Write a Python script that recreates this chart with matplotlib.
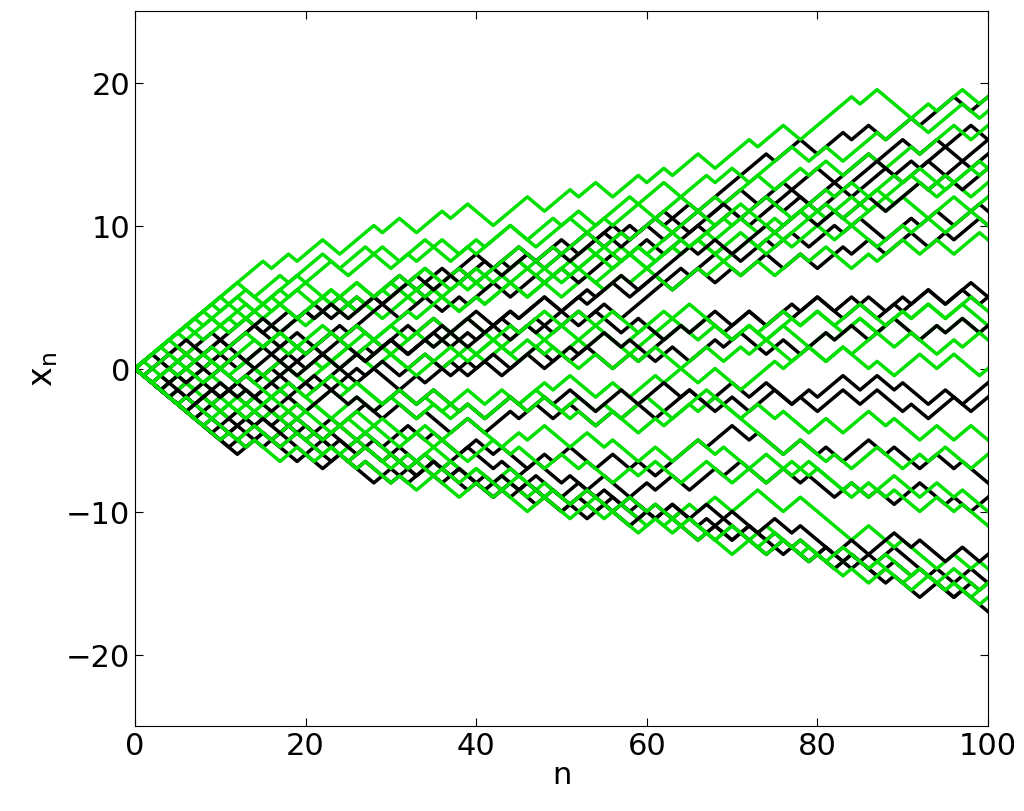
import matplotlib
matplotlib.use("Agg")
import matplotlib.pyplot as plt
import numpy as np

# each path is read off the picture as signed run lengths:
# +k means k steps up, -k means k steps down, each step 0.5 in x_n per unit of n
green_runs = [
    [15, -1, 2, -1, 3, -2, 4, -1, 2, -2, 3, -1, 2, -3, 4, -2, 3, -1, 2, -2, 3, -1, 2, -1, 3, -2, 4, -1, 3, -2, 6, -1, 2, -3],
    [12, -2, 3, -1, 4, -2, 3, -3, 2, -1, 3, -2, 2, -1, 3, -3, 4, -2, 2, -1, 3, -2, 3, -2, 2, -1, 4, -2, 3, -1, 2, -2, 3],
    [9, -1, 2, -2, 3, -1, 2, -3, 3, -2, 2, -1, 3, -2, 2, -3, 4, -2, 3, -1, 2, -2, 2, -3, 3, -1, 2, -2, 3, -2, 2, -1, 3],
    [6, -2, 3, -1, 2, -3, 2, -1, 3, -2, 2, -2, 3, -1, 2, -3, 2, -1, 3, -2, 2, -2, 3, -2, 2, -1, 2, -3, 3, -1, 2, -2, 2],
    [3, -2, 2, -3, 2, -1, 3, -2, 2, -3, 2, -1, 2, -2, 3, -2, 2, -3, 2, -1, 3, -2, 2, -2, 2, -3, 3, -1, 2, -2, 2, -3, 2],
    [-3, 2, -2, 3, -1, 2, -3, 2, -2, 3, -1, 2, -2, 2, -3, 2, -1, 3, -2, 2, -2, 3, -2, 2, -1, 2, -3, 3, -1, 2, -2, 2, -2],
    [-7, 2, -1, 3, -2, 2, -3, 1, -2, 3, -2, 2, -3, 2, -1, 3, -2, 2, -2, 3, -1, 2, -3, 2, -2, 3, -1, 2, -2, 2, -3, 2],
    [2, -5, 2, -3, 1, -2, 3, -3, 2, -1, 2, -3, 2, -2, 1, -3, 2, -2, 3, -1, 2, -3, 2, -2, 1, -2, 3, -3, 2, -1, 2, -3],
    [-4, 2, -3, 2, -4, 1, -2, 3, -3, 2, -2, 1, -3, 2, -2, 3, -4, 2, -1, 2, -3, 2, -2, 1, -3, 2, -2, 3, -2, 1, -3],
    [-6, 2, -3, 1, -4, 2, -2, 1, -3, 2, -3, 1, -2, 3, -4, 1, -2, 2, -3, 1, -4, 2, -2, 1, -3, 2, -2, 1, -3, 2, -2],
    [1, -3, 2, -6, 2, -3, 1, -4, 2, -2, 1, -5, 2, -2, 1, -4, 2, -3, 1, -3, 2, -2, 1, -3, 2, -2, 3, -1, 2, -2, 3],
    [10, -1, 2, -2, 4, -1, 3, -2, 4, -2, 3, -3, 2, -1, 4, -2, 3, -1, 2, -2, 4, -1, 3, -2, 3, -1, 2, -2, 5, -1],
    [5, -1, 3, -2, 2, -1, 3, -2, 3, -2, 2, -1, 3, -2, 2, -2, 3, -1, 2, -2, 3, -2, 2, -1, 3, -2, 2, -2, 3, -1, 2],
    [-2, 3, -2, 2, -1, 2, -3, 2, -2, 2, -1, 3, -2, 2, -3, 2, -1, 2, -2, 3, -2, 2, -2, 1, -3, 2, -2, 2, -1, 2, -3],
    [-5, 1, -3, 2, -2, 3, -2, 1, -4, 2, -2, 1, -3, 2, -2, 1, -3, 3, -2, 1, -3, 2, -2, 1, -3, 2, -1, 2, -3, 2],
    [7, -1, 3, -2, 2, -1, 3, -2, 2, -3, 3, -1, 2, -2, 3, -2, 2, -1, 3, -3, 2, -1, 3, -2, 2, -2, 3, -1, 2, -2],
    [4, -3, 2, -1, 3, -2, 2, -2, 3, -3, 2, -1, 2, -2, 3, -2, 2, -3, 2, -1, 3, -2, 2, -2, 2, -3, 3, -1, 2, -2],
    [-1, 3, -4, 2, -2, 1, -3, 2, -2, 3, -2, 1, -3, 2, -2, 2, -3, 1, -2, 3, -2, 2, -3, 1, -2, 2, -3, 2, -1, 2],
    [-10, 1, -2, 1, -3, 2, -2, 2, -3, 1, -3, 1, -2, 2, -3, 2, -2, 1, -3, 2, -3, 2, -2, 1, -3, 2, -2],
    [-8, 1, -3, 2, -3, 2, -3, 1, -2, 2, -3, 2, -3, 1, -2, 2, -3, 2, -3, 1, -2, 2, -3, 2, -2, 1, -3],
    [8, -2, 3, -1, 2, -3, 4, -1, 2, -2, 3, -1, 2, -3, 3, -1, 4, -2, 2, -1, 3, -2, 2, -1, 3, -2, 3],
    [-2, 2, -1, 3, -2, 4, -1, 2, -3, 3, -1, 2, -2, 4, -1, 3, -2, 2, -1, 3, -2, 3, -1, 2, -2, 3],
]
black_runs = [
    [-2, 3, 4, -1, 3, -2, 3, -1, 2, -2, 3, -1, 4, -2, 3, -1, 3, -2, 3, -2, 3, -1, 2, -2, 3, -1, 3, -2, 3],
    [-1, 4, -2, 3, -1, 3, -2, 4, -1, 3, -2, 2, -1, 3, -2, 4, -2, 3, -1, 2, -2, 3, -1, 4, -2, 3, -1, 3, -2],
    [-3, 2, -1, 4, -2, 3, -1, 2, -2, 3, -1, 2, -3, 3, -1, 2, -2, 3, -2, 2, -1, 3, -2, 3, -1, 2, -2, 3, -1],
    [-4, 2, -1, 3, -2, 2, -1, 3, -2, 2, -2, 3, -1, 2, -2, 3, -2, 2, -1, 3, -2, 2, -2, 3, -1, 2, -2, 3],
    [-6, 2, -1, 2, -2, 3, -2, 2, -1, 3, -2, 2, -3, 2, -1, 3, -2, 2, -2, 3, -2, 2, -1, 2, -3, 2, -1, 3],
    [-8, 1, -2, 3, -2, 2, -3, 2, -1, 3, -2, 2, -2, 1, -3, 2, -2, 3, -1, 2, -2, 2, -3, 2, -1, 2, -2, 3],
    [-10, 2, -1, 3, -2, 1, -3, 2, -2, 1, -2, 3, -2, 1, -3, 2, -2, 1, -3, 2, -1, 2, -3, 2, -2, 1, -2, 3],
    [-12, 3, -1, 2, -3, 2, -2, 1, -3, 2, -2, 1, -2, 3, -3, 1, -2, 2, -3, 1, -2, 2, -3, 2, -1, 2, -2],
    [-9, 1, -3, 2, -2, 1, -4, 2, -2, 1, -3, 2, -1, 2, -4, 1, -2, 2, -3, 1, -2, 3, -2, 1, -3, 2, -2],
    [-7, 2, -3, 1, -3, 2, -2, 1, -4, 2, -2, 1, -3, 2, -2, 1, -4, 2, -1, 2, -3, 2, -2, 1, -3, 1, -2],
    [-5, 1, -4, 2, -2, 1, -3, 2, -3, 1, -2, 2, -4, 1, -3, 2, -2, 1, -3, 2, -2, 1, -4, 2, -1, 2, -3],
    [-11, 2, -2, 1, -3, 2, -2, 1, -4, 2, -2, 3, -2, 1, -3, 2, -2, 1, -4, 2, -2, 1, -3, 2, -1, 2, -2],
    [-3, 4, -1, 3, -2, 3, -1, 2, -2, 3, -1, 4, -2, 3, -2, 2, -1, 3, -2, 3, -1, 2, -2, 4, -1, 3, -2],
    [-2, 1, -3, 2, -2, 3, -1, 2, -3, 2, -2, 3, -1, 2, -2, 3, -3, 2, -1, 2, -2, 3, -2, 2, -1, 3, -2],
    [-4, 1, -2, 3, -2, 1, -3, 2, -2, 3, -2, 1, -2, 3, -2, 2, -3, 1, -2, 3, -2, 2, -1, 2, -3, 2],
    [-1, 2, -3, 2, -1, 3, -2, 2, -2, 3, -1, 2, -3, 3, -2, 2, -1, 2, -2, 3, -2, 2, -1, 3, -2, 2, -3],
    [2, -1, 3, -2, 2, -1, 4, -2, 3, -1, 2, -2, 3, -1, 4, -2, 2, -1, 3, -2, 3, -1, 2, -2, 4, -1],
    [-6, 3, -1, 2, -2, 4, -1, 3, -2, 2, -1, 3, -2, 4, -1, 2, -2, 3, -1, 3, -2, 2, -1, 4, -2, 3],
]

N_STEPS = 100


def walk(runs):
    steps = []
    # the read runs cover the first part of each path; they are read again from the
    # second run on until the path reaches n = 100
    k = 0
    while len(steps) < N_STEPS:
        r = runs[k]
        steps += [0.5 if r > 0 else -0.5] * abs(r)
        k += 1
        if k == len(runs):
            k = 1
    return np.concatenate([[0.0], np.cumsum(steps[:N_STEPS])])


fig = plt.figure(figsize=(10.24, 8.12), dpi=100)
ax = fig.add_axes([135 / 1024, 85 / 812, 853 / 1024, 715 / 812])

for i in range(max(len(green_runs), len(black_runs))):
    if i < len(black_runs):
        y = walk(black_runs[i])
        ax.plot(np.arange(len(y)), y, color="black", lw=2.5)
    if i < len(green_runs):
        y = walk(green_runs[i])
        ax.plot(np.arange(len(y)), y, color="#00e000", lw=2.5)

ax.set_xlim(0, 100)
ax.set_ylim(-25, 25)
ax.set_xticks([0, 20, 40, 60, 80, 100])
ax.set_yticks([-20, -10, 0, 10, 20])
ax.set_yticklabels(["\u221220", "\u221210", "0", "10", "20"])
ax.tick_params(labelsize=22, direction="in", length=6, top=True, right=True)
ax.set_xlabel("n", fontsize=22, labelpad=0)
ax.set_ylabel("$\\mathregular{x_n}$", fontsize=24)
fig.savefig("out.png", dpi=100)
